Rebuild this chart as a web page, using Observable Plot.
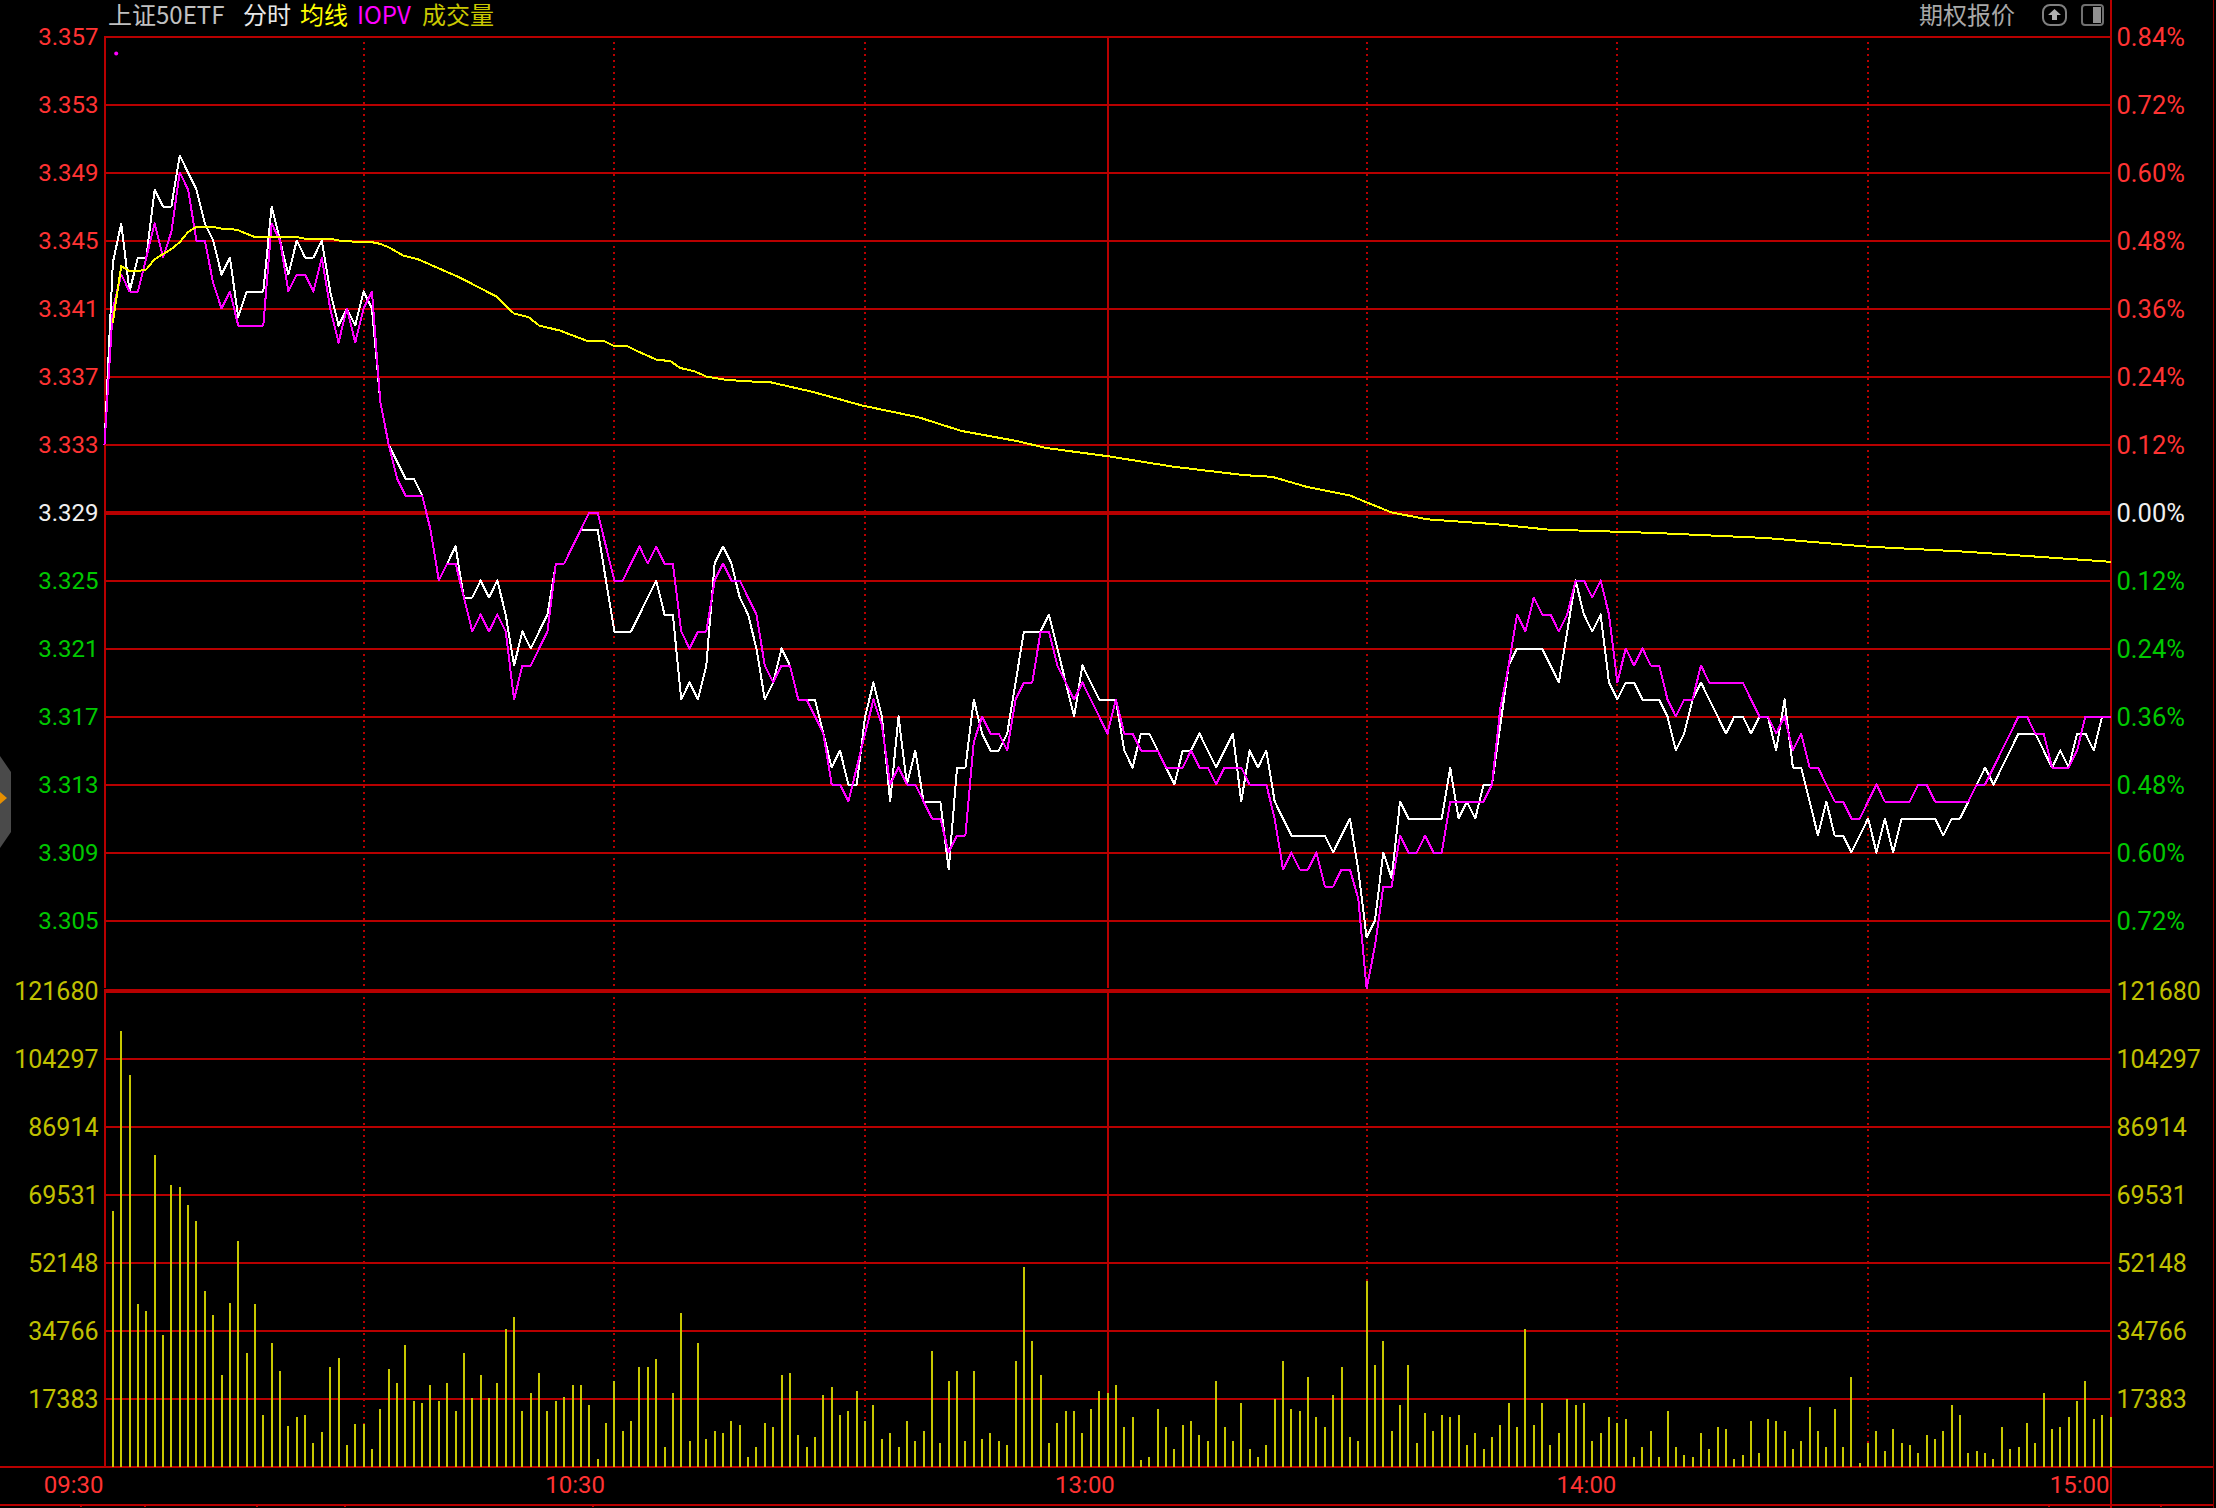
<!DOCTYPE html>
<html><head><meta charset="utf-8">
<script src="https://cdn.jsdelivr.net/npm/d3@7"></script>
<script src="https://cdn.jsdelivr.net/npm/@observablehq/plot@0.6"></script>
<style>
html,body{margin:0;padding:0;background:#000;}
#wrap{position:relative;width:2216px;height:1508px;background:#000;}
#wrap>svg,#wrap>div.layer{position:absolute;left:0;top:0;}
svg path, svg line{shape-rendering:crispEdges;}
.h{position:absolute;top:0;font:24px/28px "Noto Sans CJK SC","Noto Sans",sans-serif;white-space:nowrap;}
</style></head><body><div id="wrap"></div>
<script>
// price, minute slots from -1 (09:30 open)
const priceLast = [3.333,3.3437,3.346,3.342,3.344,3.344,3.348,3.347,3.347,3.350,3.349,3.348,3.346,3.345,3.343,3.344,3.3405,3.342,3.342,3.342,3.347,3.345,3.343,3.345,3.344,3.344,3.345,3.342,3.340,3.341,3.340,3.342,3.341,3.3355,3.333,3.332,3.331,3.331,3.330,3.328,3.325,3.326,3.327,3.324,3.324,3.325,3.324,3.325,3.323,3.320,3.322,3.321,3.322,3.323,3.326,3.326,3.327,3.328,3.328,3.328,3.325,3.322,3.322,3.322,3.323,3.324,3.325,3.323,3.323,3.318,3.319,3.318,3.320,3.326,3.327,3.326,3.324,3.323,3.321,3.318,3.319,3.321,3.320,3.318,3.318,3.318,3.316,3.314,3.315,3.313,3.313,3.317,3.319,3.317,3.312,3.317,3.313,3.315,3.312,3.312,3.312,3.308,3.314,3.314,3.318,3.316,3.315,3.315,3.316,3.319,3.322,3.322,3.322,3.323,3.321,3.319,3.317,3.320,3.319,3.318,3.318,3.318,3.315,3.314,3.316,3.316,3.315,3.314,3.313,3.315,3.315,3.316,3.315,3.314,3.315,3.316,3.312,3.315,3.314,3.315,3.312,3.311,3.310,3.310,3.310,3.310,3.310,3.309,3.310,3.311,3.308,3.304,3.305,3.309,3.3075,3.312,3.311,3.311,3.311,3.311,3.311,3.314,3.311,3.312,3.311,3.313,3.313,3.3165,3.320,3.321,3.321,3.321,3.321,3.320,3.319,3.322,3.325,3.323,3.322,3.323,3.319,3.318,3.319,3.319,3.318,3.318,3.318,3.317,3.315,3.316,3.318,3.319,3.318,3.317,3.316,3.317,3.317,3.316,3.317,3.317,3.315,3.318,3.314,3.314,3.312,3.310,3.312,3.310,3.310,3.309,3.310,3.311,3.309,3.311,3.309,3.311,3.311,3.311,3.311,3.311,3.310,3.311,3.311,3.312,3.313,3.314,3.313,3.314,3.315,3.316,3.316,3.316,3.315,3.314,3.315,3.314,3.316,3.316,3.315,3.317];
const iopv = [3.333,3.341,3.343,3.342,3.342,3.344,3.346,3.344,3.3455,3.349,3.348,3.345,3.345,3.3425,3.341,3.342,3.340,3.340,3.340,3.340,3.346,3.345,3.342,3.343,3.343,3.342,3.344,3.341,3.339,3.341,3.339,3.341,3.342,3.3355,3.333,3.331,3.330,3.330,3.330,3.328,3.325,3.326,3.326,3.324,3.322,3.323,3.322,3.323,3.322,3.318,3.320,3.320,3.321,3.322,3.326,3.326,3.327,3.328,3.329,3.329,3.327,3.325,3.325,3.326,3.327,3.326,3.327,3.326,3.326,3.322,3.321,3.322,3.322,3.325,3.326,3.325,3.325,3.324,3.323,3.320,3.319,3.320,3.320,3.318,3.318,3.317,3.316,3.313,3.313,3.312,3.314,3.316,3.318,3.3165,3.313,3.314,3.313,3.313,3.312,3.311,3.311,3.309,3.310,3.310,3.3155,3.317,3.316,3.316,3.315,3.318,3.319,3.319,3.322,3.322,3.320,3.319,3.318,3.319,3.318,3.317,3.316,3.318,3.316,3.316,3.315,3.315,3.315,3.314,3.314,3.314,3.315,3.314,3.314,3.313,3.314,3.314,3.314,3.313,3.313,3.313,3.311,3.308,3.309,3.308,3.308,3.309,3.307,3.307,3.308,3.308,3.3063,3.301,3.3035,3.307,3.307,3.310,3.309,3.309,3.310,3.309,3.309,3.312,3.312,3.312,3.312,3.312,3.313,3.3175,3.320,3.323,3.322,3.324,3.323,3.323,3.322,3.323,3.325,3.325,3.324,3.325,3.323,3.319,3.321,3.320,3.321,3.320,3.320,3.318,3.317,3.318,3.318,3.320,3.319,3.319,3.319,3.319,3.319,3.318,3.317,3.317,3.316,3.317,3.315,3.316,3.314,3.314,3.313,3.312,3.312,3.311,3.311,3.312,3.313,3.312,3.312,3.312,3.312,3.313,3.313,3.312,3.312,3.312,3.312,3.312,3.313,3.313,3.314,3.315,3.316,3.317,3.317,3.316,3.316,3.314,3.314,3.314,3.315,3.317,3.317,3.317,3.317];
const avgSlot = [0,1,2,3,4,5,6,7,8,9,10,11,12,13,14,15,16,17,18,22,23,26,27,28,29,31,32,33,34.8,36.5,41.6,45.9,48,49.7,51,53.5,56.7,58.7,59.9,61.5,62.7,65,66.7,67.9,69.6,71,73.4,76.6,78.6,83.7,89.6,96.4,101.5,108.2,111.6,119.2,126.8,135.3,138.7,142.9,148,153,157.3,165.7,171.6,184.3,197.8,209.7,221.5,239];
const avgPrice = [3.3402,3.3435,3.3432,3.3432,3.3433,3.3439,3.3442,3.3445,3.3449,3.3455,3.3458,3.3458,3.3458,3.3457,3.3457,3.3456,3.3454,3.3452,3.3452,3.3452,3.3451,3.3451,3.345,3.345,3.3449,3.3449,3.3448,3.3446,3.3441,3.3439,3.3428,3.3417,3.3407,3.3405,3.34,3.3397,3.3391,3.3391,3.3388,3.3388,3.3385,3.338,3.3379,3.3375,3.3373,3.337,3.3368,3.3367,3.33667,3.3361,3.3353,3.3346,3.3338,3.3332,3.3328,3.3323,3.3317,3.3312,3.3311,3.3305,3.33,3.329,3.3286,3.3283,3.328,3.3278,3.3275,3.327,3.3267,3.3261];
const volume = [65406,111450,100174,41481,39846,79692,33736,72032,71516,66955,62824,44923,38813,23494,41911,57746,29088,41481,13253,31670,24527,10241,12737,13253,6110,8692,25560,27625,5594,10758,10758,4561,14802,25043,21429,31154,16868,16351,20913,16868,21429,14286,29088,17384,23494,17384,21429,
35273,38340,14314,18914,24026,14314,16870,17892,20959,20959,15847,2045,11246,21982,9202,11758,25560,25560,27605,5112,18914,39362,6646,31694,7157,9202,8690,11758,10735,2556,5112,11246,10224,23515,24026,8179,5112,7668,18403,20448,13291,14314,19426,11758,15847,7157,8690,5112,11758,6646,9202,29650,6134,21982,24538,6646,24538,7157,8690,6646,5623,27094,51120,32206,23515,6134,11246,14314,14314,8690,14825,19426,
18914,20959,10224,12780,1534,2556,14825,10224,4601,10735,11758,8179,6646,21982,10224,6646,16358,4601,2556,5623,17381,27094,14825,14314,23004,12780,10224,18403,25560,7668,6646,47542,26071,32206,9202,15847,26071,6134,13802,9202,13291,12780,13291,5623,8690,4601,7668,10735,16358,10224,35273,10735,16358,5623,8690,17381,15847,16358,6646,8690,12780,11246,12269,2556,5112,9202,2556,
14314,5112,3067,2556,8690,4601,10224,9713,2045,3067,11758,3578,12269,11758,9202,4601,6646,15336,9202,5112,14825,5112,23004,1022,6134,9202,4090,9713,6134,5623,3578,8179,7157,9202,15847,13291,3578,4090,3578,2045,10224,4601,5112,11246,6134,18914,9713,10224,12780,16870,21982,12269,13291,12780];
const priceTicks = [3.357,3.353,3.349,3.345,3.341,3.337,3.333,3.329,3.325,3.321,3.317,3.313,3.309,3.305];
const pctTicks = ["0.84%","0.72%","0.60%","0.48%","0.36%","0.24%","0.12%","0.00%","0.12%","0.24%","0.36%","0.48%","0.60%","0.72%"];
const volTicks = [121680,104297,86914,69531,52148,34766,17383];
const timeSlots = [-1,59,120,180,239];
const timeLabels = ["09:30","10:30","13:00","14:00","15:00"];
const dottedSlots = [30,60,90,150,180,210];
const lunchSlot = [119];
const strayDot = [{slot:0.4,price:3.356}];
const footTicks = [-3.8,3.8,17.2,27.8,57.4,231.6,245];

const GRID="#b80000", RED="#ff3333", GREEN="#00c800", OLIVE="#c0c000", FONT="Roboto, 'Noto Sans', sans-serif";
const X={type:"linear",domain:[-1,239],range:[104,2110]};
const base={width:2216,height:1508,marginTop:0,marginRight:0,marginBottom:0,marginLeft:0,x:X,style:{background:"transparent",position:"absolute",left:"0",top:"0"}};
const priceColor=v=>v>3.329?RED:(v===3.329?"#f0f0f0":GREEN);
const seq=(arr,start)=>arr.map((p,k)=>({slot:k+start,p}));

const pricePlot=Plot.plot({...base,
  y:{type:"linear",domain:[3.301,3.357],range:[988,36]},
  marks:[
    Plot.ruleX(dottedSlots,{y1:3.357,y2:3.301,stroke:GRID,strokeWidth:2,strokeDasharray:"2 4"}),
    Plot.ruleY(priceTicks,{x1:-1,x2:239,stroke:GRID,strokeWidth:d=>d===3.329?4:2}),
    Plot.ruleX([-1,...lunchSlot],{y1:3.357,y2:3.301,stroke:GRID,strokeWidth:2}),
    Plot.ruleX([239],{stroke:GRID,strokeWidth:2}),
    Plot.ruleX([251.3],{stroke:"#8a0000",strokeWidth:1}),
    Plot.line(seq(priceLast,-1),{x:"slot",y:"p",stroke:"#ffffff",strokeWidth:2}),
    Plot.line(seq(iopv,-1),{x:"slot",y:"p",stroke:"#ff00ff",strokeWidth:2}),
    Plot.line(avgSlot.map((s,k)=>({s,p:avgPrice[k]})),{x:"s",y:"p",stroke:"#ffff00",strokeWidth:2}),
    Plot.dot(strayDot,{x:"slot",y:"price",r:2,fill:"#ff00ff"}),
    Plot.text(priceTicks,{x:-1,y:d=>d,text:d=>d.toFixed(3),dx:-6,dy:1,textAnchor:"end",lineAnchor:"middle",fill:priceColor,fontSize:24,fontFamily:FONT}),
    Plot.text(pctTicks.map((t,k)=>({t,v:priceTicks[k]})),{x:239,y:"v",text:"t",dx:6,dy:1,textAnchor:"start",lineAnchor:"middle",fill:d=>d.v>3.329?RED:(d.v===3.329?"#f0f0f0":GREEN),fontSize:25.5,fontFamily:FONT})
  ]});

const volPlot=Plot.plot({...base,
  y:{type:"linear",domain:[0,121680],range:[1466.5,990.5]},
  marks:[
    Plot.ruleX(dottedSlots,{y1:0,y2:121680,stroke:GRID,strokeWidth:2,strokeDasharray:"2 4"}),
    Plot.ruleY(volTicks,{x1:-1,x2:239,stroke:GRID,strokeWidth:d=>d===121680?4:2}),
    Plot.ruleY([0],{x1:-13.6,x2:251.3,stroke:GRID,strokeWidth:2}),
    Plot.ruleY([-9600],{x1:-13.6,x2:251.3,stroke:GRID,strokeWidth:2}),
    Plot.ruleX([-1,...lunchSlot],{y1:0,y2:121680,stroke:GRID,strokeWidth:2}),
    Plot.ruleX(footTicks,{y1:-9600,y2:-10400,stroke:GRID,strokeWidth:2}),
    Plot.ruleX(volume.map((v,i)=>({i,v})),{x:"i",y1:0,y2:"v",stroke:"#c8c800",strokeWidth:2}),
    Plot.text(volTicks,{x:-1,y:d=>d,text:d=>String(d),dx:-6,dy:1,textAnchor:"end",lineAnchor:"middle",fill:OLIVE,fontSize:25,fontFamily:FONT}),
    Plot.text(volTicks,{x:239,y:d=>d,text:d=>String(d),dx:6,dy:1,textAnchor:"start",lineAnchor:"middle",fill:OLIVE,fontSize:25,fontFamily:FONT}),
    Plot.text(timeLabels.map((t,k)=>({t,s:timeSlots[k]})),{x:"s",text:"t",frameAnchor:"bottom",dy:-23,dx:-1,textAnchor:"end",lineAnchor:"middle",fill:RED,fontSize:24,fontFamily:FONT})
  ]});

const wrap=document.getElementById("wrap");
wrap.appendChild(pricePlot);
wrap.appendChild(volPlot);
const heads=[["上证50ETF",108,"#c0c0c0"],["分时",243,"#e8e8e8"],["均线",300,"#ffff00"],["IOPV",357,"#ff00ff"],["成交量",422,"#c8c800"],["期权报价",1919,"#a8a8a8"]];
for(const [t,x,c] of heads){const s=document.createElement("span");s.className="h";s.textContent=t;s.style.left=x+"px";s.style.color=c;wrap.appendChild(s);}
const deco=document.createElement("div");deco.className="layer";
deco.innerHTML=`<svg width="2216" height="1508" style="position:absolute;left:0;top:0">
<polygon points="0,756 11,772 11,832 0,848" fill="#4a4a4a"/><polygon points="0,792 7,798 0,804" fill="#e89000"/>
<rect x="2043" y="5" width="23" height="20" rx="7" fill="none" stroke="#808080" stroke-width="2"/><polygon points="2054.5,9 2061,15 2057,15 2057,20 2052,20 2052,15 2048,15" fill="#b0b0b0"/>
<rect x="2082" y="5" width="21" height="20" rx="3" fill="none" stroke="#707070" stroke-width="2"/><rect x="2093" y="7" width="8" height="16" fill="#909090"/></svg>`;
wrap.appendChild(deco);
</script></body></html>
